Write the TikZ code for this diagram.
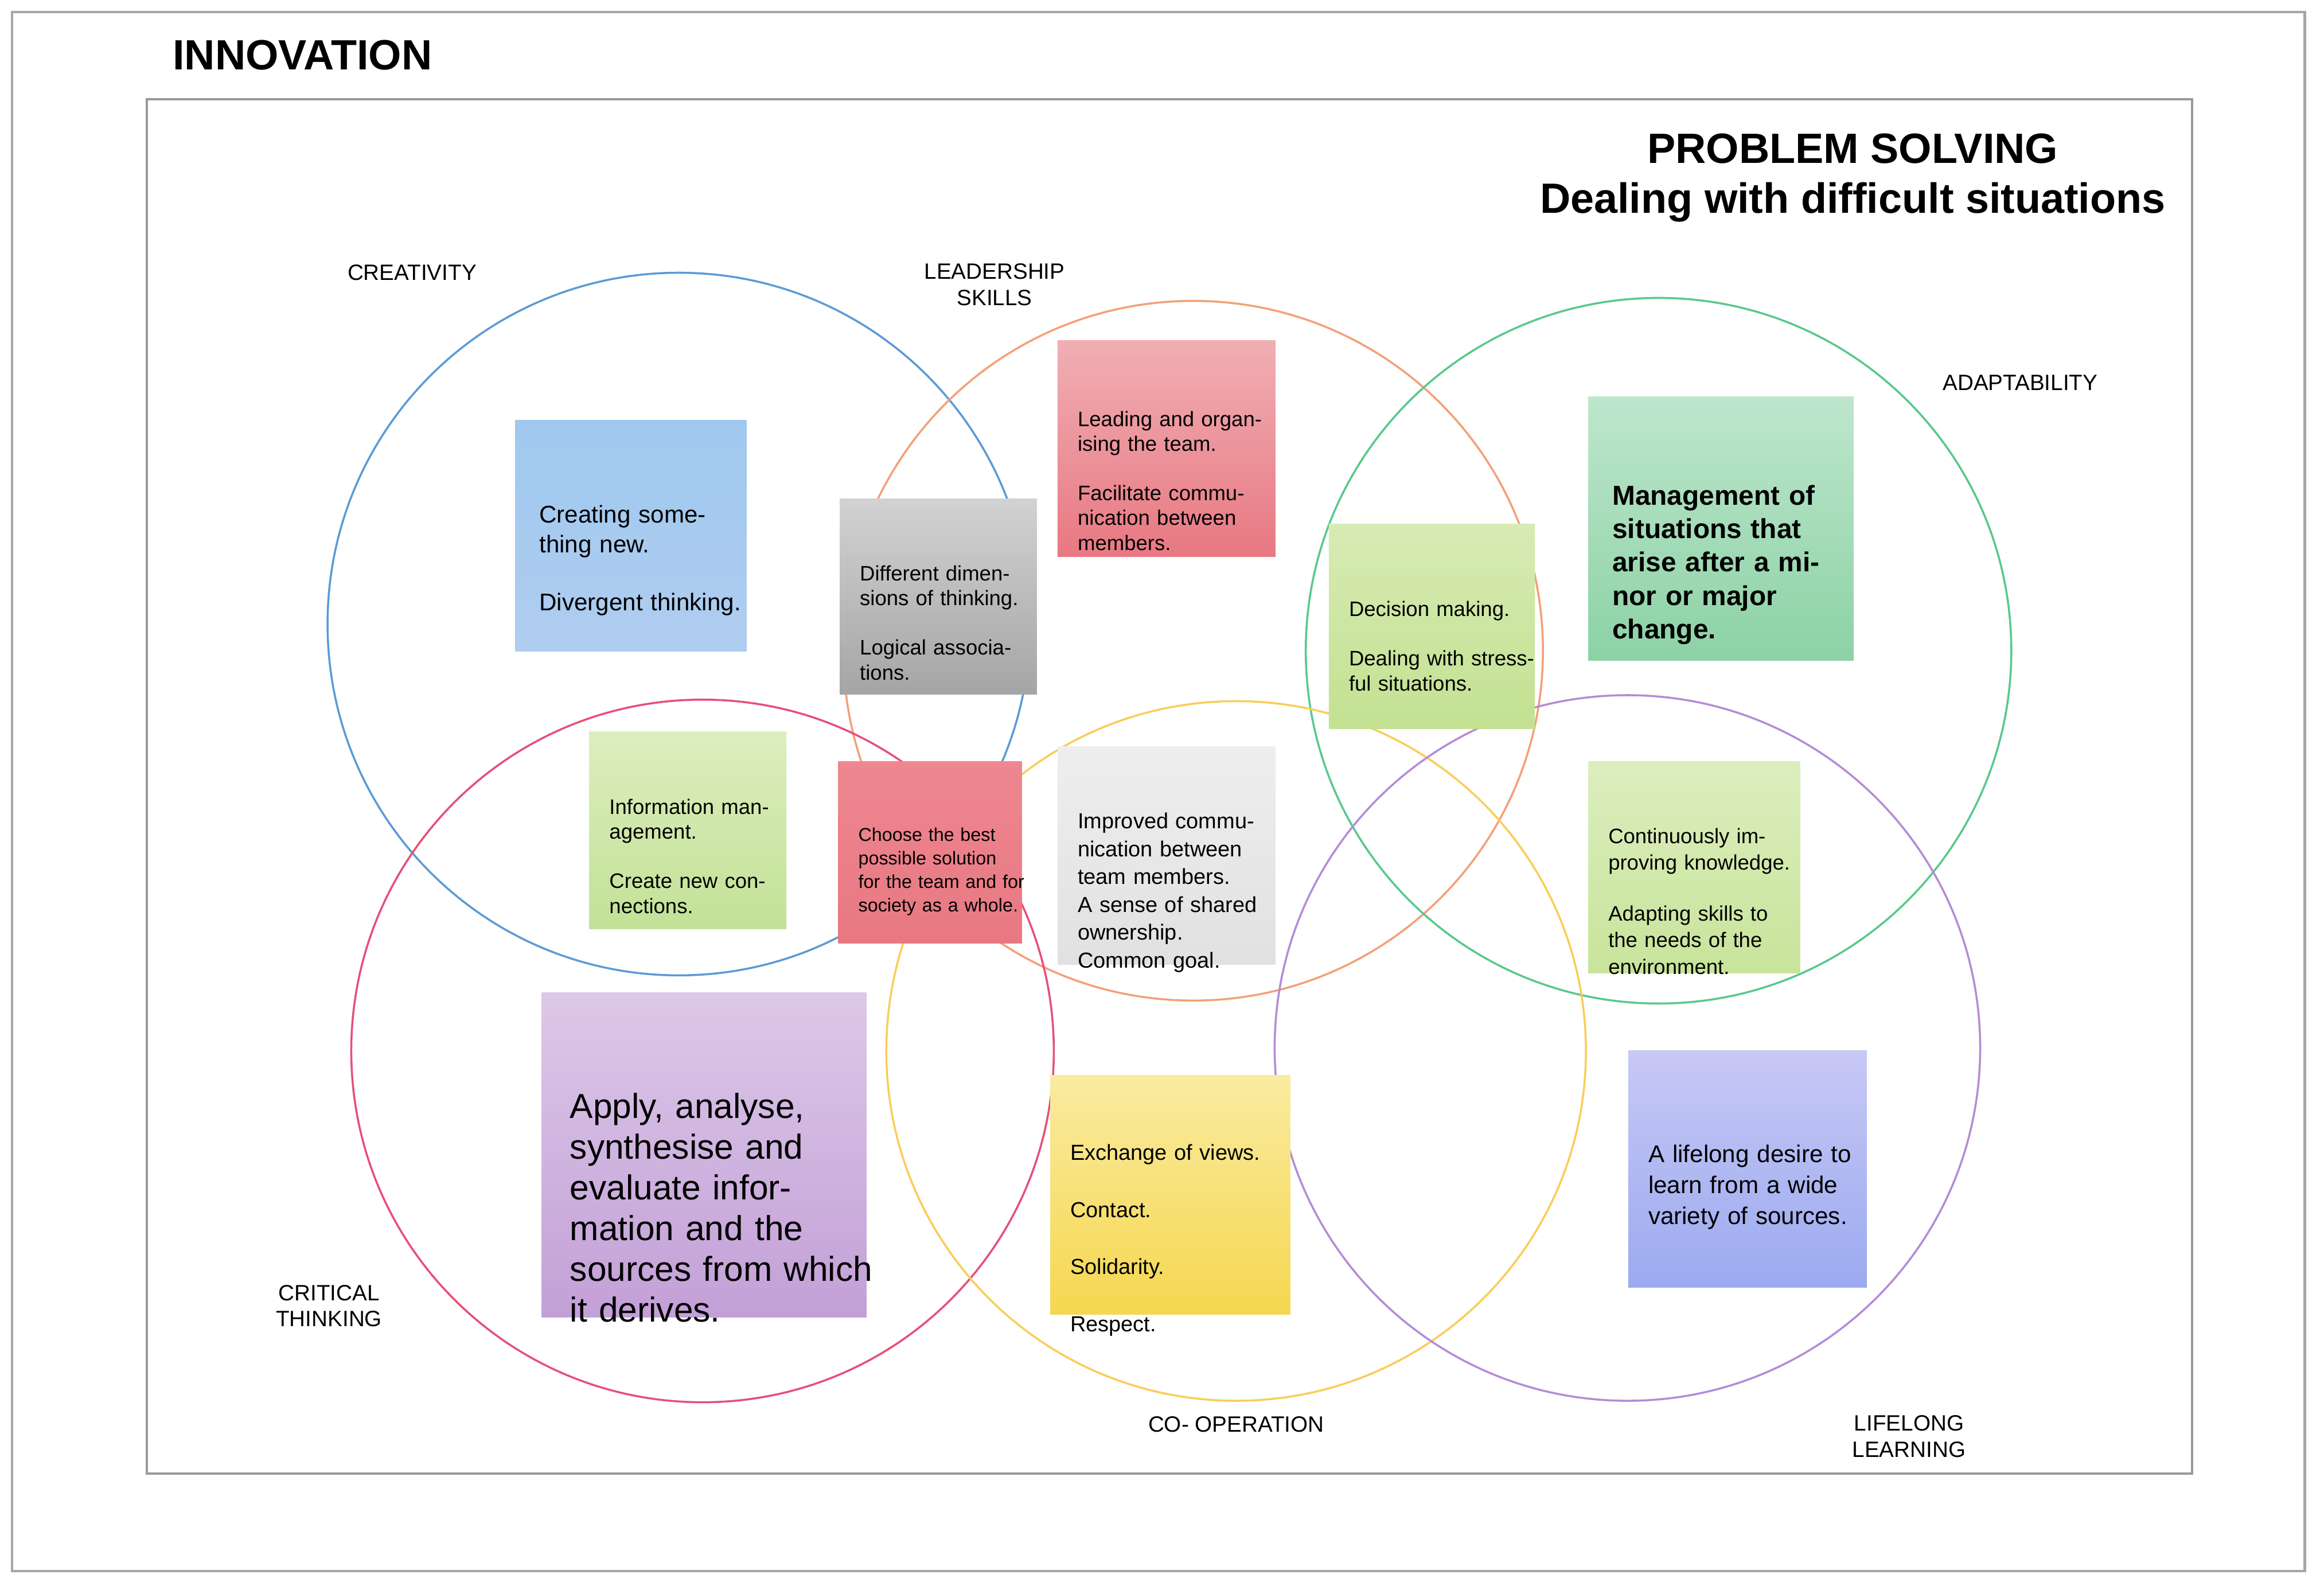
\documentclass[tikz,border=0pt]{standalone}
\usepackage{fontspec}
\setmainfont{Liberation Sans}
\usetikzlibrary{positioning}
\newlength{\ul}
\setlength{\ul}{0.01292cm}
\tikzset{
  ring/.style={line width=0.5pt},
  tag/.style={font=\fontsize{5.5}{6.5}\selectfont, align=center},
  note/.style={rectangle, anchor=north west, inner sep=0pt, align=left, text depth=0pt},
}
\newcommand{\notesize}[2]{\fontsize{#1}{#2}\selectfont}
\begin{document}
\begin{tikzpicture}[x=\ul, y=-\ul]
\useasboundingbox (0,0) rectangle (1568,1069.7);
\fill[white] (0,0) rectangle (1568,1069.7);

% Frames
\draw[gray!70, line width=0.6pt] (8,8) rectangle (1555,1060);
\draw[gray!80, line width=0.6pt] (99,67) rectangle (1479,994);
\node[anchor=west, font=\bfseries\fontsize{10.5}{12}\selectfont] (innov) at (107,37) {INNOVATION};
\node[align=center, font=\bfseries\fontsize{10.5}{12.5}\selectfont] (title) at (1250,120) {PROBLEM SOLVING\\Dealing with difficult situations};

% Circles
\draw[ring, color={rgb,255:red,91;green,155;blue,213}] (458,421) circle[radius=237];
\draw[ring, color={rgb,255:red,244;green,160;blue,120}] (805,439) circle[radius=236];
\draw[ring, color={rgb,255:red,90;green,200;blue,140}] (1119,439) circle[radius=238];
\draw[ring, color={rgb,255:red,230;green,80;blue,120}] (474,709) circle[radius=237];
\draw[ring, color={rgb,255:red,250;green,205;blue,90}] (834,709) circle[radius=236];
\draw[ring, color={rgb,255:red,180;green,140;blue,215}] (1098,707) circle[radius=238];

% Circle labels
\node[tag] (creat) at (278,184) {CREATIVITY};
\node[tag] (lead) at (671,192) {LEADERSHIP\\SKILLS};
\node[tag] (adapt) at (1363,258) {ADAPTABILITY};
\node[tag] (crit) at (222,881) {CRITICAL\\THINKING};
\node[tag] (coop) at (834,961) {CO- OPERATION};
\node[tag] (life) at (1288,969) {LIFELONG\\LEARNING};

% Notes
\node[note, top color={rgb,255:red,160;green,200;blue,238}, bottom color={rgb,255:red,175;green,205;blue,240},
  minimum width=156\ul, minimum height=156\ul, text width=156\ul, font=\notesize{6}{7.4}] (newthink) at (347,283)
  {\hspace*{6pt}\parbox{140\ul}{Creating something new.\\[7pt]Divergent thinking.}};
\node[note, top color={rgb,255:red,210;green,210;blue,210}, bottom color={rgb,255:red,165;green,165;blue,165},
  minimum width=133\ul, minimum height=132\ul, text width=133\ul, font=\notesize{5.2}{6.2}] (dims) at (566,336)
  {\hspace*{5pt}\parbox{112\ul}{Different dimensions of thinking.\\[6pt]Logical associations.}};
\node[note, top color={rgb,255:red,240;green,175;blue,180}, bottom color={rgb,255:red,232;green,120;blue,130},
  minimum width=147\ul, minimum height=146\ul, text width=147\ul, font=\notesize{5.2}{6.2}] (team) at (713,229)
  {\hspace*{5pt}\parbox{132\ul}{Leading and organising the team.\\[6pt]Facilitate communication between members.}};
\node[note, top color={rgb,255:red,215;green,235;blue,180}, bottom color={rgb,255:red,195;green,225;blue,145},
  minimum width=139\ul, minimum height=138\ul, text width=139\ul, font=\notesize{5.2}{6.2}] (decide) at (896,353)
  {\hspace*{5pt}\parbox{128\ul}{Decision making.\\[6pt]Dealing with stressful situations.}};
\node[note, top color={rgb,255:red,190;green,230;blue,205}, bottom color={rgb,255:red,140;green,210;blue,165},
  minimum width=179\ul, minimum height=178\ul, text width=179\ul, font=\bfseries\notesize{6.8}{8.3}] (change) at (1071,267)
  {\hspace*{6pt}\parbox{160\ul}{Management of situations that arise after a minor or major change.}};
\node[note, top color={rgb,255:red,220;green,238;blue,190}, bottom color={rgb,255:red,195;green,225;blue,150},
  minimum width=133\ul, minimum height=133\ul, text width=133\ul, font=\notesize{5.2}{6.2}] (info) at (397,493)
  {\hspace*{5pt}\parbox{120\ul}{Information management.\\[6pt]Create new connections.}};
\node[note, top color={rgb,255:red,238;green,135;blue,145}, bottom color={rgb,255:red,232;green,120;blue,130},
  minimum width=124\ul, minimum height=123\ul, text width=124\ul, font=\notesize{4.6}{5.8}] (best) at (565,513)
  {\hspace*{5pt}\parbox{116\ul}{Choose the best possible solution for the team and for society as a whole.}};
\node[note, top color={rgb,255:red,238;green,238;blue,238}, bottom color={rgb,255:red,225;green,225;blue,225},
  minimum width=147\ul, minimum height=147\ul, text width=147\ul, font=\notesize{5.4}{6.9}] (comm) at (713,503)
  {\hspace*{5pt}\parbox{135\ul}{Improved communication between team members.\\A sense of shared ownership.\\Common goal.}};
\node[note, top color={rgb,255:red,220;green,238;blue,190}, bottom color={rgb,255:red,200;green,228;blue,155},
  minimum width=143\ul, minimum height=143\ul, text width=143\ul, font=\notesize{5.2}{6.6}] (improve) at (1071,513)
  {\hspace*{5pt}\parbox{130\ul}{Continuously improving knowledge.\\[6pt]Adapting skills to the needs of the environment.}};
\node[note, top color={rgb,255:red,220;green,200;blue,232}, bottom color={rgb,255:red,195;green,160;blue,215},
  minimum width=219\ul, minimum height=219\ul, text width=219\ul, font=\notesize{8.6}{10.1}] (apply) at (365,669)
  {\hspace*{7pt}\parbox{205\ul}{Apply, analyse, synthesise and evaluate information and the sources from which it derives.}};
\node[note, top color={rgb,255:red,250;green,235;blue,160}, bottom color={rgb,255:red,245;green,215;blue,80},
  minimum width=162\ul, minimum height=161\ul, text width=162\ul, font=\notesize{5.4}{7.2}] (views) at (708,725)
  {\hspace*{5pt}\parbox{150\ul}{Exchange of views.\\[7pt]Contact.\\[7pt]Solidarity.\\[7pt]Respect.}};
\node[note, top color={rgb,255:red,200;green,200;blue,245}, bottom color={rgb,255:red,155;green,170;blue,240},
  minimum width=161\ul, minimum height=160\ul, text width=161\ul, font=\notesize{6}{7.7}] (desire) at (1098,708)
  {\hspace*{5pt}\parbox{145\ul}{A lifelong desire to learn from a wide variety of sources.}};

\end{tikzpicture}
\end{document}
